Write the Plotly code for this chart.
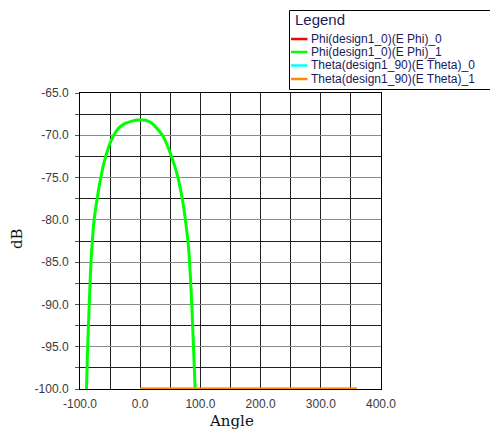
import plotly.graph_objects as go

# ---------------- data ----------------
series_names = [
    "Phi(design1_0)(E Phi)_0",
    "Phi(design1_0)(E Phi)_1",
    "Theta(design1_90)(E Theta)_0",
    "Theta(design1_90)(E Theta)_1",
]
series_colors = ["#ff0000", "#00ff00", "#00ffff", "#ff8c00"]

phi0_angle = [0, 90, 180, 270, 360]
phi0_db = [-100, -100, -100, -100, -100]

phi1_angle = [-90, -89, -88, -87, -85.5, -84, -82, -80, -77, -72, -67, -60, -52, -44,
              -35, -25, -15, -5, 0, 5, 12, 20, 28, 37, 45, 52, 58, 63, 68, 72, 76, 80,
              83, 86, 88.5, 90.5, 91.5]
phi1_db = [-101.5, -99.6, -96.8, -94.5, -91.6, -88.8, -85.3, -83.0, -80.3, -77.7,
           -75.6, -73.2, -71.3, -70.0, -69.1, -68.6, -68.35, -68.2, -68.2, -68.2,
           -68.3, -68.6, -69.2, -70.0, -71.2, -72.5, -73.8, -75.1, -76.8, -78.4,
           -80.5, -83.0, -86.2, -90.5, -95.0, -98.5, -100.3]

theta0_angle = [0, 90, 180, 270, 360]
theta0_db = [-100, -100, -100, -100, -100]

theta1_angle = [0, 90, 180, 270, 360]
theta1_db = [-100, -100, -100, -100, -100]

x_tickvals = [-100, 0, 100, 200, 300, 400]
y_tickvals = [-100, -95, -90, -85, -80, -75, -70, -65]

# ---------------- figure ----------------
W, H = 490, 430
L, R, T, B = 80, 381, 93, 389


def xp(px):
    return (px - L) / (R - L)


def yp(py):
    return (B - py) / (B - T)


fig = go.Figure()
xs = [phi0_angle, phi1_angle, theta0_angle, theta1_angle]
ys = [phi0_db, phi1_db, theta0_db, theta1_db]
widths = [2.5, 3, 2.5, 2.5]
for name, color, x, y, w in zip(series_names, series_colors, xs, ys, widths):
    fig.add_trace(go.Scatter(x=x, y=y, mode="lines", name=name,
                             line=dict(color=color, width=w, shape="spline", smoothing=0.7),
                             cliponaxis=False, showlegend=False))

tickfont = dict(family="Liberation Sans, Arial", size=12, color="#3a3a3a")
fig.update_xaxes(range=[-100, 400], tickvals=x_tickvals,
                 ticktext=[f"{v:.1f}" for v in x_tickvals],
                 showgrid=True, gridcolor="#202020", gridwidth=1,
                 minor=dict(dtick=50, tick0=0, showgrid=True, gridcolor="#202020", gridwidth=1),
                 showline=True, linecolor="black", linewidth=1, mirror=True,
                 ticks="", zeroline=False, tickfont=tickfont, layer="below traces",
                 ticklabelstandoff=4)
fig.update_yaxes(range=[-100, -65], tickvals=y_tickvals,
                 ticktext=[f"{v:.1f}" for v in y_tickvals],
                 showgrid=True, gridcolor="#8a8a8a", gridwidth=1,
                 minor=dict(dtick=2.5, tick0=-65, showgrid=True, gridcolor="#202020",
                            gridwidth=1, ticks="outside", ticklen=4, tickcolor="#555"),
                 showline=True, linecolor="black", linewidth=1, mirror=True,
                 ticks="", zeroline=False, tickfont=tickfont, layer="below traces",
                 ticklabelstandoff=8)

annotations = [
    dict(text="Angle", x=xp(231), y=yp(421), xref="paper", yref="paper",
         showarrow=False, font=dict(family="DejaVu Serif", size=15, color="#111"),
         xanchor="center", yanchor="middle"),
    dict(text="dB", x=xp(17), y=yp(239), xref="paper", yref="paper", textangle=-90,
         showarrow=False, font=dict(family="DejaVu Serif", size=15, color="#111"),
         xanchor="center", yanchor="middle"),
    dict(text="Legend", x=xp(293), y=yp(19), xref="paper", yref="paper",
         showarrow=False, font=dict(family="Liberation Sans, Arial", size=15, color="#1c1c5a"),
         xanchor="left", yanchor="middle"),
]
shapes = [
    dict(type="rect", xref="paper", yref="paper", x0=xp(289.5), x1=xp(496), y0=yp(10.5), y1=yp(89.5),
         line=dict(color="black", width=1), fillcolor="white", layer="above"),
]
row_y = [39, 52, 65.5, 79]
for name, color, ry in zip(series_names, series_colors, row_y):
    shapes.append(dict(type="line", xref="paper", yref="paper", x0=xp(291), x1=xp(307.5),
                       y0=yp(ry), y1=yp(ry), line=dict(color=color, width=2.5), layer="above"))
    annotations.append(dict(text=name, x=xp(308.5), y=yp(ry), xref="paper", yref="paper",
                            showarrow=False, xanchor="left", yanchor="middle",
                            font=dict(family="Liberation Sans, Arial", size=12, color="#201a5c")))

fig.update_layout(width=W, height=H, margin=dict(l=L, r=W - R, t=T, b=H - B),
                  paper_bgcolor="white", plot_bgcolor="white",
                  annotations=annotations, shapes=shapes, showlegend=False)

fig.write_html("out.html")
